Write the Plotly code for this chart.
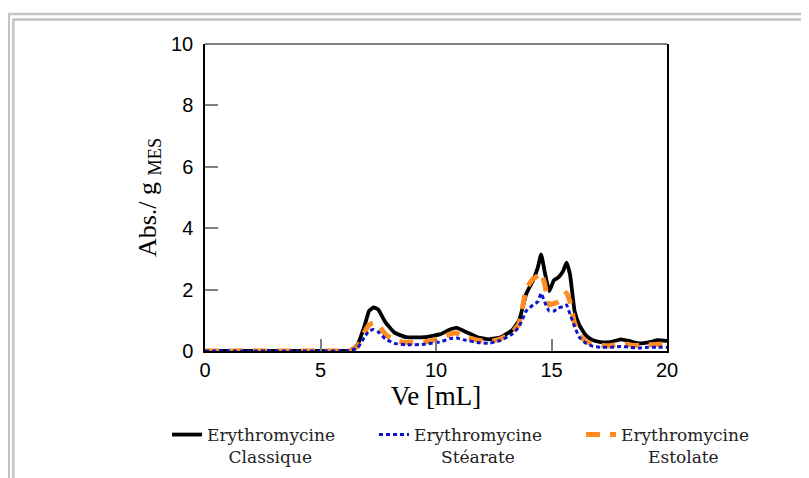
import plotly.graph_objects as go

# ---- data ----
ve = [0, 1, 2, 3, 4, 5, 6, 6.3, 6.6, 6.9, 7.1, 7.3, 7.5, 7.8, 8.2, 8.7, 9.5, 10.2, 10.6,
      10.9, 11.3, 11.8, 12.3, 12.8, 13.3, 13.6, 13.9, 14.2, 14.4, 14.55, 14.7, 14.9, 15.1,
      15.3, 15.5, 15.65, 15.8, 16.0, 16.2, 16.5, 16.8, 17.2, 17.6, 18.0, 18.4, 18.8, 19.2,
      19.6, 20]

classique = [0, 0, 0, 0, 0, 0, 0, 0.02, 0.2, 0.8, 1.3, 1.42, 1.35, 0.95, 0.6, 0.45, 0.45,
             0.55, 0.7, 0.75, 0.62, 0.45, 0.38, 0.45, 0.68, 1.0, 1.85, 2.3, 2.7, 3.15, 2.6,
             1.95, 2.3, 2.4, 2.6, 2.88, 2.5, 1.3, 0.85, 0.5, 0.35, 0.28, 0.3, 0.38, 0.32,
             0.25, 0.28, 0.35, 0.33]

stearate = [0, 0, 0, 0, 0, 0, 0, 0.02, 0.1, 0.45, 0.65, 0.7, 0.62, 0.4, 0.25, 0.2, 0.22,
            0.3, 0.4, 0.42, 0.35, 0.28, 0.25, 0.35, 0.55, 0.8, 1.3, 1.5, 1.6, 1.88, 1.6,
            1.3, 1.3, 1.4, 1.45, 1.5, 1.2, 0.8, 0.45, 0.25, 0.15, 0.12, 0.12, 0.15, 0.12,
            0.1, 0.12, 0.12, 0.12]

estolate = [0, 0, 0, 0, 0, 0, 0, 0.02, 0.15, 0.6, 0.85, 0.92, 0.85, 0.55, 0.35, 0.28, 0.3,
            0.4, 0.55, 0.58, 0.45, 0.35, 0.3, 0.4, 0.6, 0.9, 2.0, 2.35, 2.45, 2.55, 2.2,
            1.5, 1.55, 1.6, 1.7, 1.9, 1.6, 0.9, 0.55, 0.3, 0.22, 0.18, 0.18, 0.25, 0.2,
            0.18, 0.2, 0.22, 0.22]

NB = "\u00a0"
names = ["Erythromycine<br>" + NB * 4 + "Classique",
         "Erythromycine<br>" + NB * 5 + "St\u00e9arate",
         "Erythromycine<br>" + NB * 5 + "Estolate"]

x_ticks = [0, 5, 10, 15, 20]
y_ticks = [0, 2, 4, 6, 8, 10]

fig = go.Figure()
fig.add_trace(go.Scatter(x=ve, y=classique, mode="lines", name=names[0], legendrank=1,
                         line=dict(color="#000000", width=3.8, shape="spline",
                                   smoothing=0.4)))
fig.add_trace(go.Scatter(x=ve, y=estolate, mode="lines", name=names[2], legendrank=3,
                         line=dict(color="#FF8C21", width=5, dash="14px,10px",
                                   shape="spline", smoothing=0.4)))
fig.add_trace(go.Scatter(x=ve, y=stearate, mode="lines", name=names[1], legendrank=2,
                         line=dict(color="#0A14CC", width=3, dash="4px,3px",
                                   shape="spline", smoothing=0.4)))

serif = "Liberation Serif, Times New Roman, serif"
leg_serif = "DejaVu Serif, serif"
sans = "Liberation Sans, Arial, sans-serif"

fig.update_layout(
    width=809, height=478,
    margin=dict(l=197, r=150, t=36, b=135, autoexpand=False),
    paper_bgcolor="white", plot_bgcolor="white",
    showlegend=True,
    legend=dict(orientation="h", x=-0.0823, xanchor="left", y=-0.215, yanchor="top",
                font=dict(family=leg_serif, size=17, color="#222"), valign="top",
                traceorder="normal", entrywidth=162, itemwidth=30,
                bgcolor="rgba(0,0,0,0)"),
    xaxis=dict(range=[0, 20], tickvals=x_ticks, showgrid=False, zeroline=False,
               showline=True, linecolor="black", linewidth=1.5,
               ticks="inside", ticklen=12, tickcolor="#808080", tickwidth=1.5,
               tickfont=dict(family=sans, size=20, color="black"),
               title=dict(text="Ve [mL]", font=dict(family=serif, size=27, color="black"),
                          standoff=0)),
    yaxis=dict(range=[0, 10], tickvals=y_ticks, showgrid=False, zeroline=False,
               showline=True, linecolor="black", linewidth=1.5, mirror=True,
               ticks="inside", ticklen=13, tickcolor="#808080", tickwidth=1.5,
               ticklabelstandoff=6,
               tickfont=dict(family=sans, size=20, color="black"),
               title=dict(text="Abs./ g <sub>MES</sub>",
                          font=dict(family=serif, size=26, color="black"), standoff=7)),
    shapes=[
        dict(type="line", xref="paper", yref="paper", x0=0, x1=1, y0=1, y1=1,
             line=dict(color="#808080", width=2)),
        dict(type="rect", xref="paper", yref="paper", x0=-0.4247, x1=1.6, y0=-1, y1=1.0977,
             line=dict(color="#C4C4C4", width=2.5), layer="below"),
        dict(type="rect", xref="paper", yref="paper", x0=-0.4149, x1=1.6, y0=-1, y1=1.0798,
             line=dict(color="#C4C4C4", width=2.5), layer="below"),
    ],
)

fig.write_html("out.html")
